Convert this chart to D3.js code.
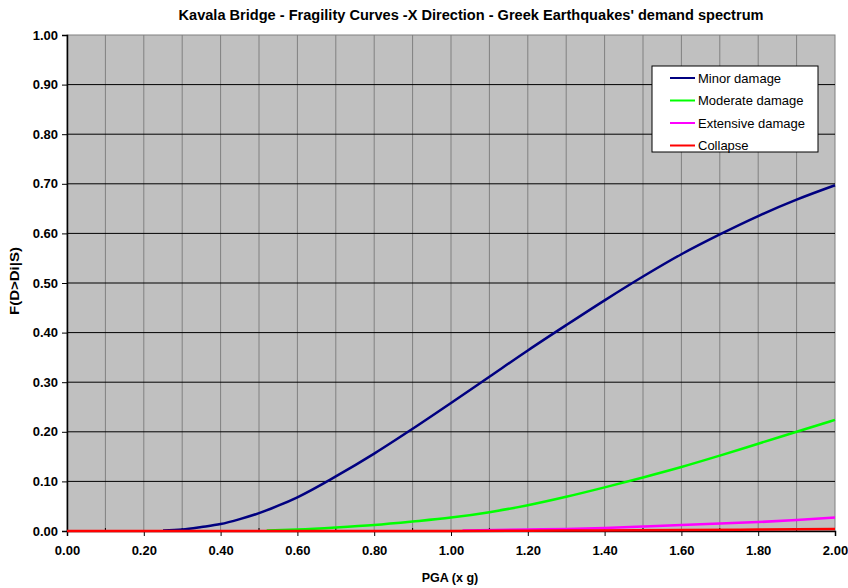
<!DOCTYPE html>
<html>
<head>
<meta charset="utf-8">
<script src="https://cdn.jsdelivr.net/npm/d3@7"></script>
<style>
  body { margin: 0; background: #fff; }
  svg { display: block; font-family: "Liberation Sans", Arial, sans-serif; }
</style>
</head>
<body>
<svg></svg>
<script>
const width = 848;
const height = 588;
const margin = { top: 35, right: 13, bottom: 57, left: 67 };

const title = "Kavala Bridge - Fragility Curves -X Direction - Greek Earthquakes' demand spectrum";
const xLabel = "PGA (x g)";
const yLabel = "F(D>Di|S)";

const xTicks = [0, 0.2, 0.4, 0.6, 0.8, 1.0, 1.2, 1.4, 1.6, 1.8, 2.0];
const yTicks = [0, 0.1, 0.2, 0.3, 0.4, 0.5, 0.6, 0.7, 0.8, 0.9, 1.0];

const seriesNames = ["Minor damage", "Moderate damage", "Extensive damage", "Collapse"];
const seriesColors = ["#000080", "#00ff00", "#ff00ff", "#ff0000"];

// PGA values and probabilities
const minorX = [0.25, 0.3, 0.35, 0.4, 0.45, 0.5, 0.55, 0.6, 0.7, 0.8, 0.9, 1.0, 1.1, 1.2, 1.3, 1.4, 1.5, 1.6, 1.7, 1.8, 1.9, 2.0];
const minorY = [0.001, 0.003, 0.008, 0.014, 0.024, 0.036, 0.051, 0.068, 0.110, 0.156, 0.206, 0.258, 0.311, 0.364, 0.415, 0.465, 0.513, 0.558, 0.598, 0.635, 0.668, 0.697];

const moderateX = [0.52, 0.6, 0.7, 0.8, 0.9, 1.0, 1.1, 1.2, 1.3, 1.4, 1.5, 1.6, 1.7, 1.8, 1.9, 2.0];
const moderateY = [0.001, 0.003, 0.007, 0.012, 0.019, 0.027, 0.038, 0.052, 0.069, 0.088, 0.108, 0.129, 0.152, 0.176, 0.200, 0.224];

const extensiveX = [1.03, 1.2, 1.3, 1.4, 1.5, 1.6, 1.7, 1.8, 1.9, 2.0];
const extensiveY = [0.001, 0.003, 0.004, 0.006, 0.009, 0.012, 0.015, 0.018, 0.022, 0.027];

const collapseX = [0.0, 0.5, 1.0, 1.3, 1.6, 1.8, 2.0];
const collapseY = [0.000, 0.000, 0.000, 0.001, 0.002, 0.003, 0.004];

const seriesX = [minorX, moderateX, extensiveX, collapseX];
const seriesY = [minorY, moderateY, extensiveY, collapseY];

const svg = d3.select("svg")
    .attr("width", width)
    .attr("height", height);

const x = d3.scaleLinear().domain([0, 2]).range([margin.left, width - margin.right]);
const y = d3.scaleLinear().domain([0, 1]).range([height - margin.bottom, margin.top]);

// plot area
svg.append("rect")
    .attr("x", x(0))
    .attr("y", y(1))
    .attr("width", x(2) - x(0))
    .attr("height", y(0) - y(1))
    .attr("fill", "#c0c0c0")
    .attr("stroke", "#808080");

// vertical grid every 0.1
svg.append("g")
    .selectAll("line")
    .data(d3.range(1, 20).map(i => i / 10))
    .enter().append("line")
    .attr("x1", d => x(d))
    .attr("x2", d => x(d))
    .attr("y1", y(1))
    .attr("y2", y(0))
    .attr("stroke", "#808080")
    .attr("stroke-width", 1);

// horizontal grid
svg.append("g")
    .selectAll("line")
    .data(yTicks.slice(1, -1))
    .enter().append("line")
    .attr("x1", x(0))
    .attr("x2", x(2))
    .attr("y1", d => y(d))
    .attr("y2", d => y(d))
    .attr("stroke", "#000")
    .attr("stroke-width", 1);

// axes
const xAxis = svg.append("g")
    .attr("transform", `translate(0,${y(0)})`)
    .call(d3.axisBottom(x).tickValues(xTicks).tickFormat(d3.format(".2f")).tickSizeOuter(0).tickSize(5).tickPadding(10));

const yAxis = svg.append("g")
    .attr("transform", `translate(${x(0)},0)`)
    .call(d3.axisLeft(y).tickValues(yTicks).tickFormat(d3.format(".2f")).tickSizeOuter(0).tickSize(5).tickPadding(4));

[xAxis, yAxis].forEach(a => {
    a.select(".domain").attr("stroke", "#000").attr("stroke-width", 1.5);
    a.selectAll(".tick line").attr("stroke", "#000");
    a.selectAll(".tick text")
        .attr("font-size", 13)
        .attr("font-weight", "bold")
        .attr("fill", "#000")
        .attr("font-family", "'Liberation Sans', Arial, sans-serif");
});

// minor ticks on x axis (inside)
svg.append("g")
    .selectAll("line")
    .data(d3.range(1, 20, 2).map(i => i / 10))
    .enter().append("line")
    .attr("x1", d => x(d))
    .attr("x2", d => x(d))
    .attr("y1", y(0))
    .attr("y2", y(0) - 3)
    .attr("stroke", "#000");

// curves
const line = d3.line()
    .x(d => x(d[0]))
    .y(d => y(d[1]))
    .curve(d3.curveMonotoneX);

seriesNames.forEach((name, i) => {
    const pts = seriesX[i].map((v, j) => [v, seriesY[i][j]]);
    svg.append("path")
        .datum(pts)
        .attr("fill", "none")
        .attr("stroke", seriesColors[i])
        .attr("stroke-width", 2.5)
        .attr("d", line);
});

// title
svg.append("text")
    .attr("x", 471)
    .attr("y", 20)
    .attr("text-anchor", "middle")
    .attr("font-size", 14)
    .attr("font-weight", "bold")
    .attr("textLength", 585)
    .attr("lengthAdjust", "spacingAndGlyphs")
    .text(title);

// axis titles
svg.append("text")
    .attr("x", 450)
    .attr("y", 582)
    .attr("text-anchor", "middle")
    .attr("font-size", 12.5)
    .attr("font-weight", "bold")
    .text(xLabel);

svg.append("text")
    .attr("transform", `translate(19,281) rotate(-90)`)
    .attr("text-anchor", "middle")
    .attr("font-size", 13)
    .attr("font-weight", "bold")
    .attr("textLength", 68)
    .attr("lengthAdjust", "spacingAndGlyphs")
    .text(yLabel);

// legend
const legend = svg.append("g")
    .attr("transform", "translate(652,66)");

legend.append("rect")
    .attr("width", 166)
    .attr("height", 86)
    .attr("fill", "#fff")
    .attr("stroke", "#000");

const legendItem = legend.selectAll(".legend-item")
    .data(seriesNames)
    .enter().append("g")
    .attr("class", "legend-item")
    .attr("transform", (d, i) => `translate(0, ${12 + i * 22.5})`);

legendItem.append("line")
    .attr("x1", 18)
    .attr("x2", 43)
    .attr("stroke", (d, i) => seriesColors[i])
    .attr("stroke-width", 2);

legendItem.append("text")
    .attr("x", 46)
    .attr("y", 4.5)
    .attr("font-size", 13)
    .text(d => d);
</script>
</body>
</html>
